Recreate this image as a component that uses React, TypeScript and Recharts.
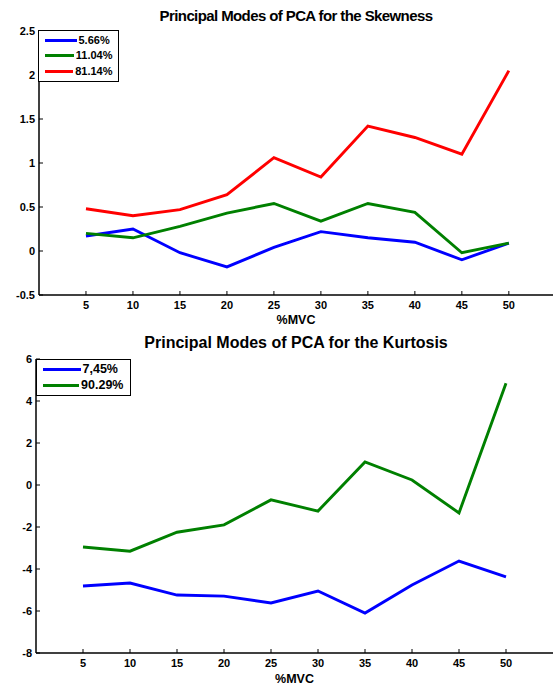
import React from "react";
import { LineChart, Line, XAxis, YAxis, Legend, Label } from "recharts";

// %MVC levels
const mvc = [5, 10, 15, 20, 25, 30, 35, 40, 45, 50];

// Skewness principal modes
const skewMode1 = [0.17, 0.25, -0.02, -0.18, 0.04, 0.22, 0.15, 0.1, -0.1, 0.09];
const skewMode2 = [0.2, 0.15, 0.28, 0.43, 0.54, 0.34, 0.54, 0.44, -0.02, 0.09];
const skewMode3 = [0.48, 0.4, 0.47, 0.64, 1.06, 0.84, 1.42, 1.29, 1.1, 2.05];
const skewLabels = ["5.66%", "11.04%", "81.14%"];
const skewTicks = [-0.5, 0, 0.5, 1, 1.5, 2, 2.5];

// Kurtosis principal modes
const kurtMode1 = [-4.81, -4.67, -5.24, -5.29, -5.62, -5.05, -6.1, -4.76, -3.62, -4.38];
const kurtMode2 = [-2.95, -3.15, -2.25, -1.9, -0.71, -1.24, 1.1, 0.24, -1.33, 4.84];
const kurtLabels = ["7,45%", "90.29%"];
const kurtTicks = [-8, -6, -4, -2, 0, 2, 4, 6];

const titles = ["Principal Modes of PCA for the Skewness", "Principal Modes of PCA for the Kurtosis"];
const xTicks = mvc;

const skewRows = mvc.map((x, i) => ({ x, m1: skewMode1[i], m2: skewMode2[i], m3: skewMode3[i] }));
const kurtRows = mvc.map((x, i) => ({ x, m1: kurtMode1[i], m2: kurtMode2[i] }));

const FONT = "'Liberation Sans', Arial, Helvetica, sans-serif";
const TICK_LEN = 4;
const AXIS_STROKE = { stroke: "#000", strokeWidth: 1.5 };

const BottomTick = (p: any) => (
  <g>
    <line x1={p.x} y1={p.y} x2={p.x} y2={p.y - TICK_LEN} stroke="#000" strokeWidth={1} />
    <text x={p.x} y={p.y + 14} textAnchor="middle" fontFamily={FONT} fontWeight="bold" fontSize={11} fill="#000">
      {p.payload.value}
    </text>
  </g>
);

const TopTick = (p: any) => (
  <line x1={p.x} y1={p.y} x2={p.x} y2={p.y + TICK_LEN} stroke="#000" strokeWidth={1} />
);

const LeftTick = (p: any) => (
  <g>
    <line x1={p.x} y1={p.y} x2={p.x + TICK_LEN} y2={p.y} stroke="#000" strokeWidth={1} />
    <text x={p.x - 4} y={p.y + 4} textAnchor="end" fontFamily={FONT} fontWeight="bold" fontSize={11} fill="#000">
      {p.payload.value}
    </text>
  </g>
);

const RightTick = (p: any) => (
  <line x1={p.x} y1={p.y} x2={p.x - TICK_LEN} y2={p.y} stroke="#000" strokeWidth={1} />
);

const makeLegend = (opts: { lineW: number; rowH: number; fontSize: number; padX: number; width: number }) =>
  (props: any) => (
    <div
      style={{
        boxSizing: "border-box",
        width: opts.width,
        border: "1.5px solid #000",
        background: "#fff",
        padding: `1.5px ${opts.padX}px 1.5px ${opts.padX}px`,
        fontFamily: FONT,
        fontWeight: "bold",
        fontSize: opts.fontSize,
        color: "#000",
      }}
    >
      {(props.payload || []).map((e: any) => (
        <div key={e.value} style={{ display: "flex", alignItems: "center", height: opts.rowH }}>
          <span style={{ display: "inline-block", width: opts.lineW, height: 3, background: e.color, marginRight: 2 }} />
          <span style={{ lineHeight: 1 }}>{e.value}</span>
        </div>
      ))}
    </div>
  );

const xLabel = (offsetY: number) => (
  <Label
    content={(p: any) => {
      const vb = p.viewBox;
      return (
        <text x={vb.x + vb.width / 2} y={vb.y + offsetY} textAnchor="middle" fontFamily={FONT} fontWeight="bold" fontSize={12.5} fill="#000">
          %MVC
        </text>
      );
    }}
  />
);

const Title = ({ text, baseline, size, spacing }: { text: string; baseline: number; size: number; spacing: number }) => (
  <svg width={554} height={30} style={{ position: "absolute", left: 0, top: baseline - 22, pointerEvents: "none" }}>
    <text x={296} y={22} textAnchor="middle" fontFamily={FONT} fontWeight="bold" fontSize={size} letterSpacing={spacing} fill="#000">
      {text}
    </text>
  </svg>
);

export default function App() {
  return (
    <div style={{ position: "absolute", left: 0, top: 0, width: 554, height: 688, background: "#fff" }}>
      <div style={{ position: "absolute", left: 0, top: 0 }}>
        <LineChart width={554} height={330} data={skewRows} margin={{ top: 31, right: 1, bottom: 5, left: 0 }}>
          <XAxis dataKey="x" type="number" domain={[0, 54.7]} ticks={xTicks} height={30} tickSize={0} tickMargin={0} tickLine={false} axisLine={AXIS_STROKE} tick={<BottomTick />} interval={0}>
            {xLabel(29)}
          </XAxis>
          <XAxis xAxisId="top" orientation="top" dataKey="x" type="number" domain={[0, 54.7]} ticks={xTicks} height={0} tickSize={0} tickMargin={0} tickLine={false} axisLine={AXIS_STROKE} tick={<TopTick />} interval={0} />
          <YAxis type="number" domain={[-0.5, 2.5]} ticks={skewTicks} width={39} tickSize={0} tickMargin={0} tickLine={false} axisLine={AXIS_STROKE} tick={<LeftTick />} interval={0} />
          <YAxis yAxisId="right" orientation="right" type="number" domain={[-0.5, 2.5]} ticks={skewTicks} width={0} tickSize={0} tickMargin={0} tickLine={false} axisLine={AXIS_STROKE} tick={<RightTick />} interval={0} />
          <Legend
            layout="vertical"
            align="center"
            verticalAlign="middle"
            itemSorter="dataKey"
            wrapperStyle={{ left: 38, top: 30, width: 81 }}
            content={makeLegend({ lineW: 32, rowH: 15.5, fontSize: 11, padX: 5.5, width: 81 })}
          />
          <Line type="linear" dataKey="m1" name={skewLabels[0]} stroke="#0000FF" strokeWidth={2.9} dot={false} isAnimationActive={false} />
          <Line type="linear" dataKey="m2" name={skewLabels[1]} stroke="#008000" strokeWidth={2.9} dot={false} isAnimationActive={false} />
          <Line type="linear" dataKey="m3" name={skewLabels[2]} stroke="#FF0000" strokeWidth={2.9} dot={false} isAnimationActive={false} />
        </LineChart>
      </div>
      <div style={{ position: "absolute", left: 0, top: 330 }}>
        <LineChart width={554} height={358} data={kurtRows} margin={{ top: 29, right: 1, bottom: 5, left: 0 }}>
          <XAxis dataKey="x" type="number" domain={[0, 55]} ticks={xTicks} height={30} tickSize={0} tickMargin={0} tickLine={false} axisLine={AXIS_STROKE} tick={<BottomTick />} interval={0}>
            {xLabel(30)}
          </XAxis>
          <XAxis xAxisId="top" orientation="top" dataKey="x" type="number" domain={[0, 55]} ticks={xTicks} height={0} tickSize={0} tickMargin={0} tickLine={false} axisLine={AXIS_STROKE} tick={<TopTick />} interval={0} />
          <YAxis type="number" domain={[-8, 6]} ticks={kurtTicks} width={36} tickSize={0} tickMargin={0} tickLine={false} axisLine={AXIS_STROKE} tick={<LeftTick />} interval={0} />
          <YAxis yAxisId="right" orientation="right" type="number" domain={[-8, 6]} ticks={kurtTicks} width={0} tickSize={0} tickMargin={0} tickLine={false} axisLine={AXIS_STROKE} tick={<RightTick />} interval={0} />
          <Legend
            layout="vertical"
            align="center"
            verticalAlign="middle"
            itemSorter="dataKey"
            wrapperStyle={{ left: 35.5, top: 28.5, width: 95 }}
            content={makeLegend({ lineW: 38, rowH: 16, fontSize: 12.5, padX: 6, width: 95 })}
          />
          <Line type="linear" dataKey="m1" name={kurtLabels[0]} stroke="#0000FF" strokeWidth={2.9} dot={false} isAnimationActive={false} />
          <Line type="linear" dataKey="m2" name={kurtLabels[1]} stroke="#008000" strokeWidth={2.9} dot={false} isAnimationActive={false} />
        </LineChart>
      </div>
      <Title text={titles[0]} baseline={21} size={15} spacing={-0.6} />
      <Title text={titles[1]} baseline={348} size={16} spacing={0} />
    </div>
  );
}
